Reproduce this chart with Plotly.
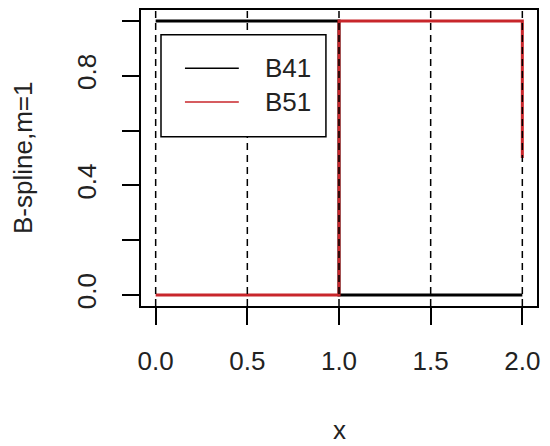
import plotly.graph_objects as go

# Data
b41_x = [0, 1, 1, 2]
b41_y = [1, 1, 0, 0]
b51_x = [0, 1, 1, 2, 2]
b51_y = [0, 0, 1, 1, 0.5]
knots = [0, 0.5, 1, 1.5, 2]
series_names = ["B41", "B51"]
series_colors = ["black", "#c8262b"]
x_tickvals = [0, 0.5, 1, 1.5, 2]
x_ticktext = ["0.0", "0.5", "1.0", "1.5", "2.0"]
y_tickvals = [0, 0.2, 0.4, 0.6, 0.8, 1.0]
y_ticktext = ["0.0", "", "0.4", "", "0.8", ""]

FONT = "Liberation Sans, Arial, sans-serif"
TXT = "#222222"
FS = 26

fig = go.Figure()
fig.add_trace(go.Scatter(x=b41_x, y=b41_y, mode="lines", name=series_names[0],
                         line=dict(color=series_colors[0], width=3), showlegend=False))
fig.add_trace(go.Scatter(x=b51_x, y=b51_y, mode="lines", name=series_names[1],
                         line=dict(color=series_colors[1], width=3), showlegend=False))

for k in knots:
    fig.add_shape(type="line", xref="x", yref="paper", x0=k, x1=k, y0=0, y1=1,
                  line=dict(color="black", width=1.5, dash="7px,5px"), layer="above")

# Manual legend (R-style)
fig.add_shape(type="rect", xref="paper", yref="paper", x0=0.0505, x1=0.467, y0=0.572, y1=0.916,
              line=dict(color="black", width=1.5), fillcolor="white", layer="above")
leg_y = [0.803, 0.689]
for name, col, ly in zip(series_names, series_colors, leg_y):
    fig.add_shape(type="line", xref="paper", yref="paper", x0=0.111, x1=0.247, y0=ly, y1=ly,
                  line=dict(color=col, width=1.5), layer="above")
    fig.add_annotation(xref="paper", yref="paper", x=0.308, y=ly, text=name, showarrow=False,
                       xanchor="left", yanchor="middle", font=dict(family=FONT, size=FS, color=TXT))

# Axis titles
fig.add_annotation(xref="paper", yref="paper", x=0.5, y=0, yshift=-124, text="x", showarrow=False,
                   xanchor="center", yanchor="middle", font=dict(family=FONT, size=FS, color=TXT))
fig.add_annotation(xref="paper", yref="paper", x=0, xshift=-118, y=0.5, text="B-spline,m=1",
                   showarrow=False, textangle=-90, xanchor="center", yanchor="middle",
                   font=dict(family=FONT, size=FS, color=TXT))

fig.update_layout(
    width=534, height=438,
    margin=dict(l=133, r=5, t=0, b=140),
    plot_bgcolor="white", paper_bgcolor="white",
    showlegend=False,
    font=dict(family=FONT, size=FS, color=TXT),
)
fig.update_xaxes(range=[-0.08, 2.08], showgrid=False, zeroline=False,
                 showline=True, linecolor="black", linewidth=1.5, mirror=True,
                 ticks="outside", ticklen=17, tickwidth=1.5, tickcolor="black",
                 tickvals=x_tickvals, ticktext=x_ticktext, ticklabelstandoff=14)
fig.update_yaxes(range=[-0.04, 1.04], showgrid=False, zeroline=False,
                 showline=True, linecolor="black", linewidth=1.5, mirror=True,
                 ticks="outside", ticklen=17, tickwidth=1.5, tickcolor="black",
                 tickvals=y_tickvals, ticktext=y_ticktext, tickangle=-90, ticklabelstandoff=16)

fig.write_html("out.html")
